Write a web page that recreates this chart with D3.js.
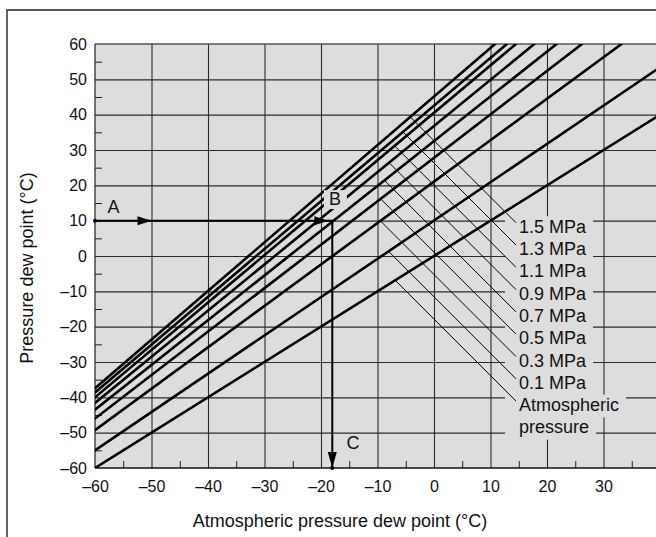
<!DOCTYPE html>
<html><head><meta charset="utf-8">
<script src="https://cdn.jsdelivr.net/npm/d3@7"></script>
<style>
body{margin:0;background:#fff}
svg{display:block}
text{font-family:"Liberation Sans",Arial,Helvetica,sans-serif;fill:#111}
</style>
</head><body>
<svg id="c" width="656" height="537"></svg>
<script>
// ---- data ----
const seriesNames = ["Atmospheric pressure","0.1 MPa","0.3 MPa","0.5 MPa","0.7 MPa","0.9 MPa","1.1 MPa","1.3 MPa","1.5 MPa"];
const startX = [-60,-60,-60,-60,-60,-60,-60,-60,-60];
const startY = [-60,-55,-49.3,-46,-43.5,-41.6,-40,-38.6,-37.4];
const endX   = [40,40,33.2,26.2,21.7,17.75,14.5,12.9,10.8];
const endY   = [40,53.4,60,60,60,60,60,60,60];
const legendLines = [["1.5 MPa"],["1.3 MPa"],["1.1 MPa"],["0.9 MPa"],["0.7 MPa"],["0.5 MPa"],["0.3 MPa"],["0.1 MPa"],["Atmospheric","pressure"]];
const legendSeries = [8,7,6,5,4,3,2,1,0];
const xTicks = [-60,-50,-40,-30,-20,-10,0,10,20,30];
const xTickLabels = ["\u201360","\u201350","\u201340","\u201330","\u201320","\u201310","0","10","20","30"];
const yTicks = [60,50,40,30,20,10,0,-10,-20,-30,-40,-50,-60];
const yTickLabels = ["60","50","40","30","20","10","0","\u201310","\u201320","\u201330","\u201340","\u201350","\u201360"];
const xMinor = [-55,-45,-35,-25,-15,-5,5,15,25,35];
const yMinor = [55,45,35,25,15,5,-5,-15,-25,-35,-45,-55];
const xGrid = [-50,-40,-30,-20,-10,0,10,20,30];
const yGrid = [50,40,30,20,10,0,-10,-20,-30,-40,-50];
const examplePath = [[-60,10],[-18,10],[-18,-60]];
const exampleArrows = [[-50,10,"right"],[-18.7,10,"right"],[-18,-60,"down"]];
const examplePoints = [["A",-57.8,12.2],["B",-18.6,14.4],["C",-15.5,-54.6]];

// ---- layout ----
const svg = d3.select("#c");
const L=95, R=660, T=44, B=468;
const x = d3.scaleLinear().domain([-60,40]).range([L,R]);
const y = d3.scaleLinear().domain([-60,60]).range([B,T]);
const plotBg = "#dddddd";

// outer frame
svg.append("path").attr("d","M7,537 L7,10 L656,10").attr("fill","none").attr("stroke","#222").attr("stroke-width",1.4);

svg.append("defs").append("clipPath").attr("id","clip")
  .append("rect").attr("x",L).attr("y",T).attr("width",R-L).attr("height",B-T);

svg.append("rect").attr("x",L).attr("y",T).attr("width",R-L).attr("height",B-T).attr("fill",plotBg);

// grid
const gx = svg.append("g").attr("transform",`translate(0,${B})`)
  .call(d3.axisBottom(x).tickValues(xGrid).tickSize(-(B-T)).tickFormat(""));
gx.select(".domain").remove();
gx.selectAll("line").attr("stroke","#2a2a2a").attr("stroke-width",1.1);
const gy = svg.append("g").attr("transform",`translate(${L},0)`)
  .call(d3.axisLeft(y).tickValues(yGrid).tickSize(-(R-L)).tickFormat(""));
gy.select(".domain").remove();
gy.selectAll("line").attr("stroke","#2a2a2a").attr("stroke-width",1.1);

// minor ticks
const mx = svg.append("g").attr("transform",`translate(0,${B})`)
  .call(d3.axisBottom(x).tickValues(xMinor).tickSize(-7).tickFormat(""));
mx.select(".domain").remove(); mx.selectAll("line").attr("stroke","#222");
const my = svg.append("g").attr("transform",`translate(${L},0)`)
  .call(d3.axisLeft(y).tickValues(yMinor).tickSize(-7).tickFormat(""));
my.select(".domain").remove(); my.selectAll("line").attr("stroke","#222");

// borders
svg.append("line").attr("x1",L).attr("x2",R).attr("y1",T).attr("y2",T).attr("stroke","#555").attr("stroke-width",1.4);
svg.append("line").attr("x1",L).attr("x2",L).attr("y1",T).attr("y2",B).attr("stroke","#222").attr("stroke-width",1.2);
svg.append("line").attr("x1",L).attr("x2",R).attr("y1",B).attr("y2",B).attr("stroke","#111").attr("stroke-width",1.6);

// axes labels
const ax = svg.append("g").attr("transform",`translate(0,${B})`)
  .call(d3.axisBottom(x).tickValues(xTicks).tickSize(0).tickPadding(13).tickFormat((d,i)=>xTickLabels[i]));
ax.select(".domain").remove();
ax.selectAll("text").attr("font-size",16).attr("font-family",null).attr("fill","#111");
const ay = svg.append("g").attr("transform",`translate(${L},0)`)
  .call(d3.axisLeft(y).tickValues(yTicks).tickSize(0).tickPadding(8).tickFormat((d,i)=>yTickLabels[i]));
ay.select(".domain").remove();
ay.selectAll("text").attr("font-size",16).attr("font-family",null).attr("fill","#111");

svg.append("text").attr("x",340).attr("y",527).attr("text-anchor","middle").attr("font-size",18)
  .text("Atmospheric pressure dew point (\u00b0C)");
svg.append("text").attr("transform","translate(33,268) rotate(-90)").attr("text-anchor","middle").attr("font-size",18)
  .text("Pressure dew point (\u00b0C)");

// legend label backgrounds + text
const lgX = 519, lgY0 = 232.7, lgStep = 22.3;
const lgG = svg.append("g");
const bgG = lgG.append("g");
const txG = svg.append("g");
let row = 0;
const anchors = [];
legendLines.forEach((lines,i)=>{
  anchors.push([lgX-3, lgY0 + row*lgStep - 10]);
  lines.forEach(s=>{
    const by = lgY0 + row*lgStep;
    const t = txG.append("text").attr("x",lgX).attr("y",by).attr("font-size",18).text(s);
    const w = t.node().getComputedTextLength();
    bgG.append("rect").attr("x",505).attr("y",by-16.5).attr("width",lgX-505+w+7).attr("height",lgStep+0.5).attr("fill",plotBg);
    row++;
  });
});

// series lines
const dataG = svg.append("g").attr("clip-path","url(#clip)");
seriesNames.forEach((n,i)=>{
  dataG.append("line").attr("x1",x(startX[i])).attr("y1",y(startY[i]))
    .attr("x2",x(endX[i])).attr("y2",y(endY[i]))
    .attr("stroke","#000").attr("stroke-width",2.6).attr("stroke-linecap","round");
});

// leaders: 45deg from label anchor up-left to the series line
legendSeries.forEach((si,k)=>{
  const [ax0,ay0] = anchors[k];
  const p0=[x(startX[si]),y(startY[si])], p1=[x(endX[si]),y(endY[si])];
  // solve ax0 - t = p0x + s*(dx), ay0 - t = p0y + s*(dy)
  const dx=p1[0]-p0[0], dy=p1[1]-p0[1];
  // ax0 - p0x - s*dx = ay0 - p0y - s*dy  => s = ((ax0-p0x)-(ay0-p0y))/(dx-dy)
  const s = ((ax0-p0[0])-(ay0-p0[1]))/(dx-dy);
  const ix = p0[0]+s*dx, iy = p0[1]+s*dy;
  svg.append("line").attr("x1",ix).attr("y1",iy).attr("x2",ax0).attr("y2",ay0)
    .attr("stroke","#000").attr("stroke-width",1);
});

// example path A -> B -> C
svg.append("path").attr("d",d3.line().x(d=>x(d[0])).y(d=>y(d[1]))(examplePath))
  .attr("fill","none").attr("stroke","#000").attr("stroke-width",2);
exampleArrows.forEach(([ax1,ay1,dir])=>{
  const px=x(ax1), py=y(ay1);
  const p = dir==="right" ? `M${px},${py} L${px-14},${py-4.5} L${px-14},${py+4.5} Z`
                          : `M${px},${py} L${px-4.5},${py-16} L${px+4.5},${py-16} Z`;
  svg.append("path").attr("d",p).attr("fill","#000");
});
svg.append("circle").attr("cx",x(examplePath[0][0])).attr("cy",y(examplePath[0][1])).attr("r",2).attr("fill","#000");
svg.append("circle").attr("cx",x(examplePath[2][0])).attr("cy",y(examplePath[2][1])).attr("r",2).attr("fill","#000");
examplePoints.forEach(([s,px,py])=>{
  if(s==="B"){
    svg.append("rect").attr("x",x(px)-5).attr("y",y(py)-15).attr("width",23).attr("height",19).attr("fill",plotBg);
  }
  svg.append("text").attr("x",x(px)).attr("y",y(py)).attr("font-size",18).text(s);
});
</script>
</body></html>
